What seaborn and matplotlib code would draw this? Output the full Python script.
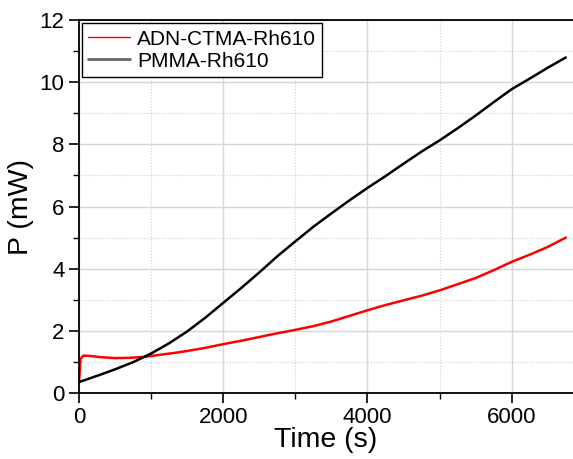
import pandas as pd
import matplotlib.pyplot as plt
from matplotlib.ticker import MultipleLocator
import seaborn as sns

# ADN-CTMA-Rh610 curve
red_time = [0, 20, 60, 150, 300, 500, 700, 900, 1100, 1300, 1500, 1750, 2000,
            2250, 2500, 2750, 3000, 3250, 3500, 3750, 4000, 4250, 4500, 4750,
            5000, 5250, 5500, 5750, 6000, 6250, 6500, 6750]
red_power = [0.35, 1.1, 1.2, 1.19, 1.15, 1.12, 1.13, 1.16, 1.22, 1.28, 1.35,
             1.45, 1.57, 1.68, 1.8, 1.92, 2.03, 2.15, 2.3, 2.48, 2.66, 2.83,
             2.98, 3.13, 3.3, 3.5, 3.7, 3.95, 4.22, 4.45, 4.7, 5.0]

# PMMA-Rh610 curve
black_time = [0, 250, 500, 750, 1000, 1250, 1500, 1750, 2000, 2250, 2500,
              2750, 3000, 3250, 3500, 3750, 4000, 4250, 4500, 4750, 5000,
              5250, 5500, 5750, 6000, 6250, 6500, 6750]
black_power = [0.35, 0.55, 0.76, 0.99, 1.27, 1.6, 1.98, 2.42, 2.9, 3.38, 3.88,
               4.4, 4.88, 5.35, 5.78, 6.2, 6.6, 6.98, 7.38, 7.77, 8.13, 8.52,
               8.93, 9.36, 9.78, 10.12, 10.47, 10.8]

labels = ["ADN-CTMA-Rh610", "PMMA-Rh610"]

df = pd.concat([
    pd.DataFrame({"t": red_time, "P": red_power, "sample": labels[0]}),
    pd.DataFrame({"t": black_time, "P": black_power, "sample": labels[1]}),
], ignore_index=True)

sns.set_style("ticks")
plt.rcParams["font.family"] = ["Liberation Sans", "DejaVu Sans"]
plt.rcParams["text.color"] = "black"
plt.rcParams["axes.labelcolor"] = "black"
plt.rcParams["xtick.color"] = "black"
plt.rcParams["ytick.color"] = "black"

fig = plt.figure(figsize=(5.73, 4.59), dpi=100)
ax = fig.add_axes([0.138, 0.144, 0.862, 0.812])

sns.lineplot(data=df, x="t", y="P", hue="sample", sort=False,
             palette={labels[0]: "#ff0000", labels[1]: "#000000"},
             linewidth=1.8, ax=ax)

ax.set_xlim(0, 6850)
ax.set_ylim(0, 12)
ax.xaxis.set_major_locator(MultipleLocator(2000))
ax.xaxis.set_minor_locator(MultipleLocator(1000))
ax.yaxis.set_major_locator(MultipleLocator(2))
ax.yaxis.set_minor_locator(MultipleLocator(1))

ax.grid(which="major", color="#d6d6d6", linewidth=1.0, linestyle="-")
ax.grid(which="minor", color="#d0d0d0", linewidth=0.8, linestyle=":")
ax.set_axisbelow(True)

ax.spines["right"].set_visible(False)
for s in ["left", "bottom", "top"]:
    ax.spines[s].set_linewidth(1.3)
    ax.spines[s].set_color("black")

ax.tick_params(which="major", direction="out", length=7, width=1.2,
               labelsize=16)
ax.tick_params(which="minor", direction="out", length=4, width=1.0)

ax.set_xlabel("Time (s)", fontsize=20.5, labelpad=-1)
ax.set_ylabel("P (mW)", fontsize=20.5, labelpad=4)

leg = ax.legend(loc="upper left", fontsize=15, frameon=True, fancybox=False,
                edgecolor="black", framealpha=1, borderpad=0.3,
                handlelength=2.0, handletextpad=0.33, labelspacing=0.15,
                borderaxespad=0.15)
leg.get_frame().set_linewidth(1.0)
handles = leg.get_lines()
handles[0].set_linewidth(1.0)
handles[1].set_color("#666666")
handles[1].set_linewidth(2.0)

plt.savefig("out.png", dpi=100)
